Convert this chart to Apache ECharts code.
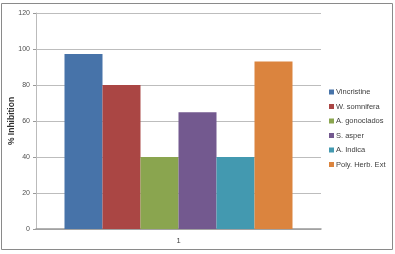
<!DOCTYPE html>
<html><head><meta charset="utf-8">
<script src="https://cdn.jsdelivr.net/npm/echarts@6/dist/echarts.min.js"></script>
<style>html,body{margin:0;padding:0;background:#fff}#c{width:395px;height:254px}</style>
</head><body><div id="c"></div>
<script>
const categories = ['1'];
const seriesNames = ['Vincristine', 'W. somnifera', 'A. gonoclados', 'S. asper', 'A. Indica', 'Poly. Herb. Ext'];
const seriesValues = [97.2, 80, 40, 64.8, 40, 93];
const seriesColors = ['#4773a9', '#aa4644', '#8aa54f', '#73598f', '#4399b0', '#db843e'];
const yTicks = [0, 20, 40, 60, 80, 100, 120];
const yAxisTitle = '% Inhibition';

const chart = echarts.init(document.getElementById('c'), null, {renderer: 'canvas'});
chart.setOption({
  animation: false,
  graphic: [
    {type: 'rect', shape: {x: 1.5, y: 3.5, width: 391, height: 246}, style: {fill: 'none', stroke: '#8a8a8a', lineWidth: 1}, z: -1},
    {type: 'text', x: 12, y: 121, rotation: Math.PI / 2,
     style: {text: yAxisTitle, font: 'bold 8.5px "Liberation Sans"', fill: '#333', align: 'center', verticalAlign: 'middle'}}
  ],
  grid: {left: 36, right: 74, top: 13, bottom: 25, containLabel: false, outerBoundsMode: 'none'},
  legend: {
    orient: 'vertical', left: 324, top: 83, itemWidth: 5, itemHeight: 5, itemGap: 6.5,
    icon: 'rect',
    textStyle: {fontFamily: 'Liberation Sans', fontSize: 7.5, color: '#404040', padding: [0, 0, 0, -3]},
    data: seriesNames
  },
  xAxis: {
    type: 'category', data: categories,
    axisLine: {lineStyle: {color: '#999', width: 1.5}},
    axisTick: {show: false},
    axisLabel: {fontFamily: 'Liberation Sans', fontSize: 7.5, color: '#404040', margin: 8}
  },
  yAxis: {
    type: 'value', min: yTicks[0], max: yTicks[yTicks.length - 1], interval: 20,
    axisLine: {show: true, lineStyle: {color: '#bbb'}},
    axisTick: {show: true, length: 3, lineStyle: {color: '#999'}},
    axisLabel: {fontFamily: 'Liberation Sans', fontSize: 7, color: '#505050', margin: 6},
    splitLine: {lineStyle: {color: '#bdbdbd', width: 1.2}}
  },
  series: seriesNames.map((n, i) => ({
    name: n, type: 'bar', data: [seriesValues[i]],
    barGap: '0%', barCategoryGap: '20%',
    itemStyle: {color: seriesColors[i]}
  }))
});
</script></body></html>
